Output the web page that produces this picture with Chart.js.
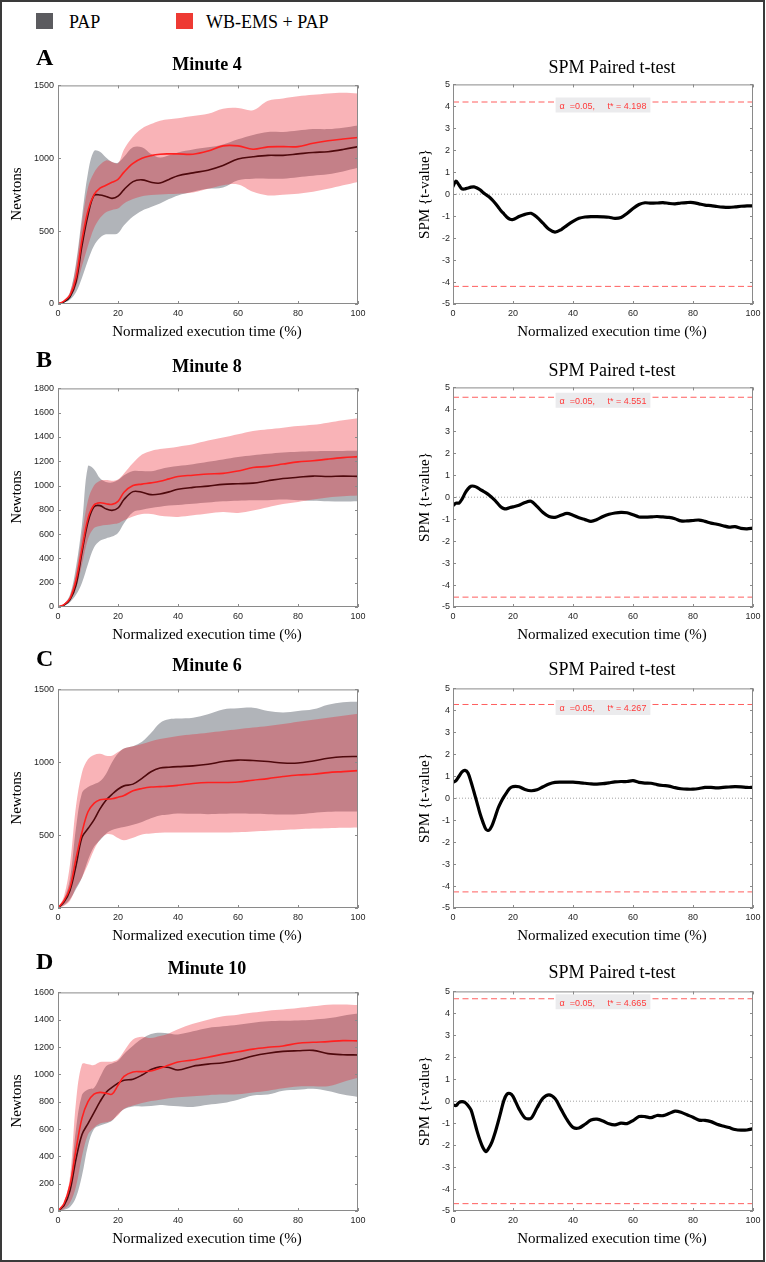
<!DOCTYPE html>
<html>
<head>
<meta charset="utf-8">
<title>PAP vs WB-EMS + PAP</title>
<script src="https://cdn.jsdelivr.net/npm/chart.js@4.4.0/dist/chart.umd.min.js"></script>
<style>
  html, body { margin: 0; padding: 0; background: #fff; }
  #page { position: relative; width: 766px; height: 1262px; overflow: hidden; background: #fff; }
  #frame { position: absolute; left: 0; top: 0; width: 765px; height: 1262px; box-sizing: border-box; border: 2px solid #3a3a3a; pointer-events: none; }
  .txt { position: absolute; font-family: "Liberation Serif", "Times New Roman", serif; color: #000; line-height: 1; white-space: nowrap; }
  .letter { font-size: 24px; font-weight: bold; }
  .ptitle { font-size: 18px; font-weight: bold; text-align: center; width: 200px; }
  .stitle { font-size: 18px; text-align: center; width: 240px; }
  .xlab { font-size: 15px; text-align: center; width: 260px; }
  .ylab { font-size: 15px; transform: translate(-50%, -50%) rotate(-90deg); }
  .legtxt { font-size: 18px; }
  .sq { position: absolute; width: 17px; height: 16px; }
  canvas { position: absolute; }
</style>
</head>
<body>
<div id="page">
  <div class="sq" style="left:36px; top:13px; background:#5b5b5f;"></div>
  <div class="txt legtxt" style="left:69px; top:13px;">PAP</div>
  <div class="sq" style="left:176px; top:13px; background:#ee3a33;"></div>
  <div class="txt legtxt" style="left:206px; top:13px;">WB-EMS + PAP</div>
  <div id="frame"></div>
</div>
<script>
// x grids (% of normalized execution time)
const timePct = [0, 2, 4, 6, 8, 10, 12, 14, 16, 18, 20, 22, 25, 28, 31, 34, 37, 40, 45, 50, 55, 60, 65, 70, 75, 80, 85, 90, 95, 100];
const tTime = [0, 1, 2, 3, 4, 5, 6, 7, 8, 9, 10, 11, 12, 13, 14, 15, 16, 17, 18, 19, 20,
  22, 24, 26, 28, 30, 32, 34, 36, 38, 40, 42, 44, 46, 48, 50, 52, 54, 56, 58, 60,
  62, 64, 66, 68, 70, 72, 74, 76, 78, 80, 82, 84, 86, 88, 90, 92, 94, 96, 98, 100];
const critX = [0, 100];

const panelLetters = ['A', 'B', 'C', 'D'];
const panelMinutes = ['Minute 4', 'Minute 8', 'Minute 6', 'Minute 10'];
const forceMax = [1500, 1800, 1500, 1600];
const forceStep = [500, 200, 500, 200];
const tCrit = [4.198, 4.551, 4.267, 4.665];

// Minute 4
const papMeanA = [0, 15, 50, 150, 400, 610, 745, 748, 738, 725, 740, 785, 840, 852, 835, 830, 855, 880, 900, 918, 950, 995, 1010, 1020, 1020, 1030, 1040, 1045, 1060, 1080];
const papUpA = [0, 20, 80, 280, 600, 900, 1050, 1045, 1005, 975, 970, 1010, 1075, 1075, 1030, 1005, 1020, 1040, 1060, 1075, 1095, 1130, 1160, 1180, 1180, 1190, 1200, 1200, 1210, 1225];
const papLowA = [0, 10, 30, 80, 180, 300, 400, 455, 478, 478, 485, 540, 600, 640, 665, 690, 720, 745, 770, 790, 800, 850, 860, 860, 860, 870, 880, 890, 910, 935];
const emsMeanA = [0, 20, 60, 180, 440, 640, 750, 795, 815, 835, 855, 905, 965, 1000, 1018, 1028, 1030, 1030, 1028, 1050, 1085, 1085, 1062, 1078, 1080, 1080, 1103, 1120, 1132, 1143];
const emsUpA = [0, 25, 80, 260, 560, 800, 900, 955, 985, 975, 965, 1060, 1150, 1205, 1235, 1258, 1268, 1275, 1290, 1305, 1340, 1345, 1330, 1395, 1410, 1425, 1435, 1445, 1450, 1445];
const emsLowA = [0, 15, 45, 120, 260, 400, 520, 590, 630, 645, 655, 690, 720, 740, 748, 752, 755, 757, 765, 790, 815, 820, 770, 745, 750, 757, 770, 790, 815, 838];

// Minute 8
const papMeanB = [0, 15, 60, 180, 450, 700, 825, 835, 808, 796, 815, 885, 950, 945, 925, 930, 948, 970, 985, 995, 1010, 1015, 1020, 1040, 1058, 1068, 1078, 1075, 1078, 1076];
const papUpB = [0, 25, 100, 330, 680, 1160, 1135, 1060, 1030, 1025, 1045, 1085, 1120, 1120, 1118, 1135, 1150, 1160, 1175, 1195, 1215, 1235, 1250, 1262, 1272, 1278, 1282, 1284, 1285, 1286];
const papLowB = [0, 10, 40, 100, 200, 355, 490, 545, 565, 580, 610, 690, 780, 800, 815, 825, 835, 840, 850, 860, 870, 875, 878, 880, 885, 880, 875, 870, 868, 871];
const emsMeanB = [0, 20, 70, 220, 480, 730, 840, 858, 850, 845, 870, 945, 1000, 1012, 1022, 1035, 1055, 1075, 1085, 1095, 1100, 1120, 1148, 1158, 1177, 1195, 1204, 1218, 1230, 1238];
const emsUpB = [0, 25, 90, 280, 600, 880, 1000, 1040, 1045, 1040, 1050, 1100, 1185, 1255, 1285, 1300, 1310, 1320, 1340, 1370, 1396, 1423, 1450, 1464, 1477, 1490, 1500, 1518, 1537, 1554];
const emsLowB = [0, 15, 50, 150, 350, 560, 650, 668, 675, 682, 690, 715, 745, 765, 765, 752, 745, 742, 755, 770, 782, 775, 795, 822, 848, 865, 885, 902, 912, 918];

// Minute 6
const papMeanC = [0, 40, 120, 290, 485, 545, 605, 680, 740, 780, 815, 838, 850, 890, 935, 960, 966, 970, 975, 986, 1005, 1015, 1012, 1005, 995, 995, 1009, 1027, 1038, 1040];
const papUpC = [0, 60, 200, 550, 790, 830, 850, 870, 920, 1000, 1060, 1095, 1110, 1140, 1200, 1270, 1295, 1300, 1306, 1330, 1362, 1370, 1374, 1352, 1342, 1352, 1363, 1395, 1412, 1415];
const papLowC = [0, 20, 60, 130, 210, 330, 420, 465, 510, 535, 548, 555, 572, 590, 615, 635, 642, 648, 646, 644, 646, 648, 646, 644, 642, 644, 652, 660, 662, 662];
const emsMeanC = [0, 50, 140, 340, 520, 660, 718, 742, 747, 750, 760, 772, 805, 820, 830, 833, 836, 842, 854, 861, 861, 865, 877, 888, 902, 913, 918, 929, 936, 943];
const emsUpC = [0, 80, 300, 700, 930, 1020, 1050, 1058, 1045, 1045, 1070, 1095, 1110, 1125, 1145, 1160, 1170, 1180, 1192, 1203, 1215, 1226, 1238, 1249, 1262, 1278, 1292, 1306, 1320, 1333];
const emsLowC = [0, 15, 50, 140, 210, 300, 400, 470, 505, 505, 480, 465, 482, 505, 512, 516, 518, 518, 518, 518, 518, 520, 525, 530, 535, 540, 545, 548, 550, 553];

// Minute 10
const papMeanD = [0, 40, 150, 380, 560, 640, 720, 800, 868, 905, 935, 957, 965, 995, 1035, 1055, 1050, 1032, 1060, 1075, 1085, 1105, 1135, 1155, 1168, 1173, 1176, 1152, 1144, 1142];
const papUpD = [0, 30, 200, 600, 850, 890, 900, 980, 1060, 1080, 1100, 1150, 1210, 1260, 1295, 1305, 1300, 1292, 1315, 1340, 1352, 1364, 1378, 1388, 1392, 1395, 1400, 1410, 1430, 1445];
const papLowD = [0, 10, 30, 100, 260, 480, 600, 625, 640, 660, 710, 745, 765, 765, 768, 775, 770, 767, 762, 778, 790, 815, 845, 852, 880, 888, 895, 878, 852, 835];
const emsMeanD = [0, 55, 190, 450, 680, 800, 855, 868, 862, 855, 920, 985, 1018, 1020, 1025, 1045, 1068, 1090, 1105, 1125, 1148, 1165, 1185, 1198, 1208, 1228, 1235, 1240, 1247, 1245];
const emsUpD = [0, 60, 250, 800, 1075, 1075, 1068, 1090, 1093, 1093, 1110, 1170, 1255, 1276, 1266, 1280, 1300, 1330, 1370, 1400, 1425, 1437, 1452, 1466, 1475, 1485, 1498, 1510, 1512, 1508];
const emsLowD = [0, 15, 60, 180, 400, 560, 610, 640, 650, 665, 700, 748, 772, 790, 805, 815, 825, 832, 840, 848, 852, 855, 868, 881, 898, 912, 913, 913, 945, 975];

// SPM paired t-test curves
const tA = [0.35, 0.6, 0.42, 0.24, 0.24, 0.28, 0.32, 0.33, 0.28, 0.2, 0.08, -0.02, -0.12, -0.25, -0.4, -0.57, -0.75, -0.9, -1.05, -1.14, -1.15,
  -1.02, -0.92, -0.87, -1.05, -1.32, -1.6, -1.73, -1.62, -1.42, -1.24, -1.1, -1.04, -1.02, -1.02, -1.03, -1.05, -1.1, -1.06, -0.88, -0.65,
  -0.47, -0.39, -0.41, -0.4, -0.38, -0.42, -0.44, -0.4, -0.38, -0.38, -0.44, -0.5, -0.52, -0.56, -0.59, -0.6, -0.58, -0.55, -0.53, -0.53];
const tB = [-0.38, -0.27, -0.27, -0.09, 0.18, 0.38, 0.5, 0.5, 0.45, 0.36, 0.28, 0.2, 0.1, -0.02, -0.14, -0.3, -0.45, -0.52, -0.52, -0.47, -0.44,
  -0.37, -0.24, -0.18, -0.42, -0.7, -0.88, -0.92, -0.82, -0.74, -0.82, -0.94, -1.02, -1.1, -1.02, -0.88, -0.78, -0.72, -0.69, -0.71, -0.8,
  -0.9, -0.91, -0.9, -0.88, -0.9, -0.92, -0.98, -1.08, -1.08, -1.06, -1.04, -1.1, -1.18, -1.23, -1.3, -1.36, -1.34, -1.42, -1.44, -1.41];
const tC = [0.72, 0.8, 1.0, 1.2, 1.27, 1.15, 0.75, 0.28, -0.2, -0.7, -1.1, -1.42, -1.46, -1.25, -0.88, -0.47, -0.17, 0.07, 0.28, 0.46, 0.53,
  0.52, 0.4, 0.34, 0.38, 0.52, 0.65, 0.72, 0.73, 0.73, 0.73, 0.71, 0.68, 0.65, 0.64, 0.66, 0.7, 0.74, 0.76, 0.76, 0.8,
  0.72, 0.69, 0.68, 0.62, 0.58, 0.55, 0.48, 0.43, 0.41, 0.41, 0.44, 0.49, 0.49, 0.47, 0.49, 0.51, 0.53, 0.52, 0.49, 0.49];
const tD = [-0.17, -0.2, -0.06, -0.02, -0.06, -0.2, -0.4, -0.85, -1.35, -1.78, -2.12, -2.3, -2.12, -1.85, -1.45, -0.97, -0.45, 0.05, 0.32, 0.35, 0.22,
  -0.35, -0.76, -0.78, -0.3, 0.14, 0.29, 0.12, -0.36, -0.84, -1.19, -1.22, -1.05, -0.86, -0.82, -0.9, -1.03, -1.08, -1.0, -1.02, -0.88,
  -0.7, -0.7, -0.75, -0.65, -0.66, -0.56, -0.45, -0.5, -0.62, -0.73, -0.86, -0.87, -0.93, -1.05, -1.13, -1.2, -1.29, -1.32, -1.31, -1.25];

const papMean = [papMeanA, papMeanB, papMeanC, papMeanD];
const papUp = [papUpA, papUpB, papUpC, papUpD];
const papLow = [papLowA, papLowB, papLowC, papLowD];
const emsMean = [emsMeanA, emsMeanB, emsMeanC, emsMeanD];
const emsUp = [emsUpA, emsUpB, emsUpC, emsUpD];
const emsLow = [emsLowA, emsLowB, emsLowC, emsLowD];
const tCurves = [tA, tB, tC, tD];

// page layout
const plotTop = [84, 387, 688, 991];
const titleShift = [0, 302, 601, 904];
const spmTitleShift = [0, 303, 602, 905];
const plotH = 220;

const tickFont = { family: '"Liberation Sans", Arial, Helvetica, sans-serif', size: 9 };
const greyFill = 'rgb(177,180,185)';
const pinkFill = 'rgba(236,25,35,0.33)';

function pts(xs, ys) {
    return xs.map((x, i) => ({ x: x, y: ys[i] }));
}

// MATLAB-like box with inward ticks
const matlabBox = {
    id: 'matlabBox',
    afterDatasetsDraw(chart) {
        const { ctx, chartArea: a, scales: { x, y } } = chart;
        ctx.save();
        ctx.strokeStyle = '#8a8a8a';
        ctx.lineWidth = 1;
        ctx.beginPath();
        x.ticks.forEach(t => {
            const px = Math.round(x.getPixelForValue(t.value)) + 0.5;
            ctx.moveTo(px, a.bottom); ctx.lineTo(px, a.bottom - 3);
            ctx.moveTo(px, a.top); ctx.lineTo(px, a.top + 3);
        });
        y.ticks.forEach(t => {
            const py = Math.round(y.getPixelForValue(t.value)) + 0.5;
            ctx.moveTo(a.left, py); ctx.lineTo(a.left + 3, py);
            ctx.moveTo(a.right, py); ctx.lineTo(a.right - 3, py);
        });
        ctx.stroke();
        ctx.strokeRect(a.left + 0.5, a.top + 0.5, a.right - a.left - 1, a.bottom - a.top - 1);
        ctx.restore();
    }
};

// critical threshold label on the SPM plots
const critLabel = {
    id: 'critLabel',
    afterDatasetsDraw(chart, args, opts) {
        if (!opts || opts.value == null) return;
        const { ctx, scales: { x, y } } = chart;
        const py = y.getPixelForValue(opts.value);
        const label = 'α  =0.05,     t* = ' + opts.value.toFixed(3);
        ctx.save();
        ctx.font = '9px "Liberation Sans", Arial, sans-serif';
        const w = ctx.measureText(label).width + 8;
        const cx = x.getPixelForValue(50);
        ctx.fillStyle = '#ebebed';
        ctx.fillRect(cx - w / 2, py - 4.5, w, 15);
        ctx.fillStyle = '#ff3b3b';
        ctx.textBaseline = 'alphabetic';
        ctx.fillText(label, cx - w / 2 + 4, py + 7);
        ctx.restore();
    }
};

function axisOpts(min, max, step, fitKey, fitVal, pad) {
    return {
        type: 'linear', min: min, max: max,
        grid: { display: false, drawTicks: false },
        border: { display: false },
        ticks: { stepSize: step, padding: pad, color: '#262626', font: tickFont, maxRotation: 0, autoSkip: false,
                 callback: v => String(v) },
        afterFit: s => { s[fitKey] = fitVal; }
    };
}

function addText(cls, text, style) {
    const d = document.createElement('div');
    d.className = 'txt ' + cls;
    d.textContent = text;
    Object.assign(d.style, style);
    document.getElementById('page').appendChild(d);
}

function addCanvas(left, top, w, h) {
    const c = document.createElement('canvas');
    c.width = w; c.height = h;
    c.style.left = left + 'px';
    c.style.top = top + 'px';
    document.getElementById('page').insertBefore(c, document.getElementById('frame'));
    return c;
}

function forceChart(i) {
    const cv = addCanvas(20, plotTop[i] - 8, 360, 8 + plotH + 24);
    new Chart(cv.getContext('2d'), {
        type: 'line',
        data: {
            datasets: [
                { label: 'WB-EMS + PAP', data: pts(timePct, emsMean[i]), borderColor: '#ff2020', borderWidth: 1.6, fill: false, order: 0 },
                { data: pts(timePct, emsUp[i]), borderColor: 'transparent', borderWidth: 0, backgroundColor: pinkFill, fill: '+1', order: 1 },
                { data: pts(timePct, emsLow[i]), borderColor: 'transparent', borderWidth: 0, fill: false, order: 2 },
                { label: 'PAP', data: pts(timePct, papMean[i]), borderColor: '#000000', borderWidth: 1.6, fill: false, order: 3 },
                { data: pts(timePct, papUp[i]), borderColor: 'transparent', borderWidth: 0, backgroundColor: greyFill, fill: '+1', order: 4 },
                { data: pts(timePct, papLow[i]), borderColor: 'transparent', borderWidth: 0, fill: false, order: 5 }
            ]
        },
        options: {
            responsive: false,
            animation: false,
            devicePixelRatio: 1,
            events: [],
            layout: { padding: { top: 8, right: 22, bottom: 0, left: 0 } },
            elements: {
                point: { radius: 0 },
                line: { tension: 0.35, borderJoinStyle: 'round' }
            },
            plugins: { legend: { display: false }, tooltip: { enabled: false }, critLabel: false },
            scales: {
                x: axisOpts(0, 100, 20, 'height', 24, 4),
                y: axisOpts(0, forceMax[i], forceStep[i], 'width', 38, 4)
            }
        },
        plugins: [matlabBox]
    });
}

function spmChart(i) {
    const thr = tCrit[i];
    const cv = addCanvas(400, plotTop[i] - 8, 366, 8 + plotH + 24);
    new Chart(cv.getContext('2d'), {
        type: 'line',
        data: {
            datasets: [
                { data: pts(tTime, tCurves[i]), borderColor: '#000000', borderWidth: 3.2, borderCapStyle: 'round',
                  borderJoinStyle: 'round', tension: 0.3, order: 0 },
                { data: pts(critX, [thr, thr]), borderColor: '#ff5f5f', borderWidth: 1, borderDash: [6, 3.5], order: 1 },
                { data: pts(critX, [-thr, -thr]), borderColor: '#ff5f5f', borderWidth: 1, borderDash: [6, 3.5], order: 2 },
                { data: pts(critX, [0, 0]), borderColor: '#8c8c8c', borderWidth: 0.8, borderDash: [1, 2], order: 3 }
            ]
        },
        options: {
            responsive: false,
            animation: false,
            devicePixelRatio: 1,
            events: [],
            layout: { padding: { top: 8, right: 13, bottom: 0, left: 0 } },
            elements: { point: { radius: 0 } },
            plugins: { legend: { display: false }, tooltip: { enabled: false }, critLabel: { value: thr } },
            scales: {
                x: axisOpts(0, 100, 20, 'height', 24, 4),
                y: axisOpts(-5, 5, 1, 'width', 53, 3)
            }
        },
        plugins: [critLabel, matlabBox]
    });
}

for (let i = 0; i < 4; i++) {
    const top = plotTop[i];
    addText('letter', panelLetters[i], { left: '36px', top: (45 + titleShift[i]) + 'px' });
    addText('ptitle', panelMinutes[i], { left: '107px', top: (55 + titleShift[i]) + 'px' });
    addText('stitle', 'SPM Paired t-test', { left: '492px', top: (58 + spmTitleShift[i]) + 'px' });
    addText('xlab', 'Normalized execution time (%)', { left: '77px', top: (top + plotH + 20) + 'px' });
    addText('xlab', 'Normalized execution time (%)', { left: '482px', top: (top + plotH + 20) + 'px' });
    addText('ylab', 'Newtons', { left: '16px', top: (top + plotH / 2) + 'px' });
    addText('ylab', 'SPM {t-value}', { left: '424px', top: (top + plotH / 2) + 'px' });
    forceChart(i);
    spmChart(i);
}
</script>
</body>
</html>
